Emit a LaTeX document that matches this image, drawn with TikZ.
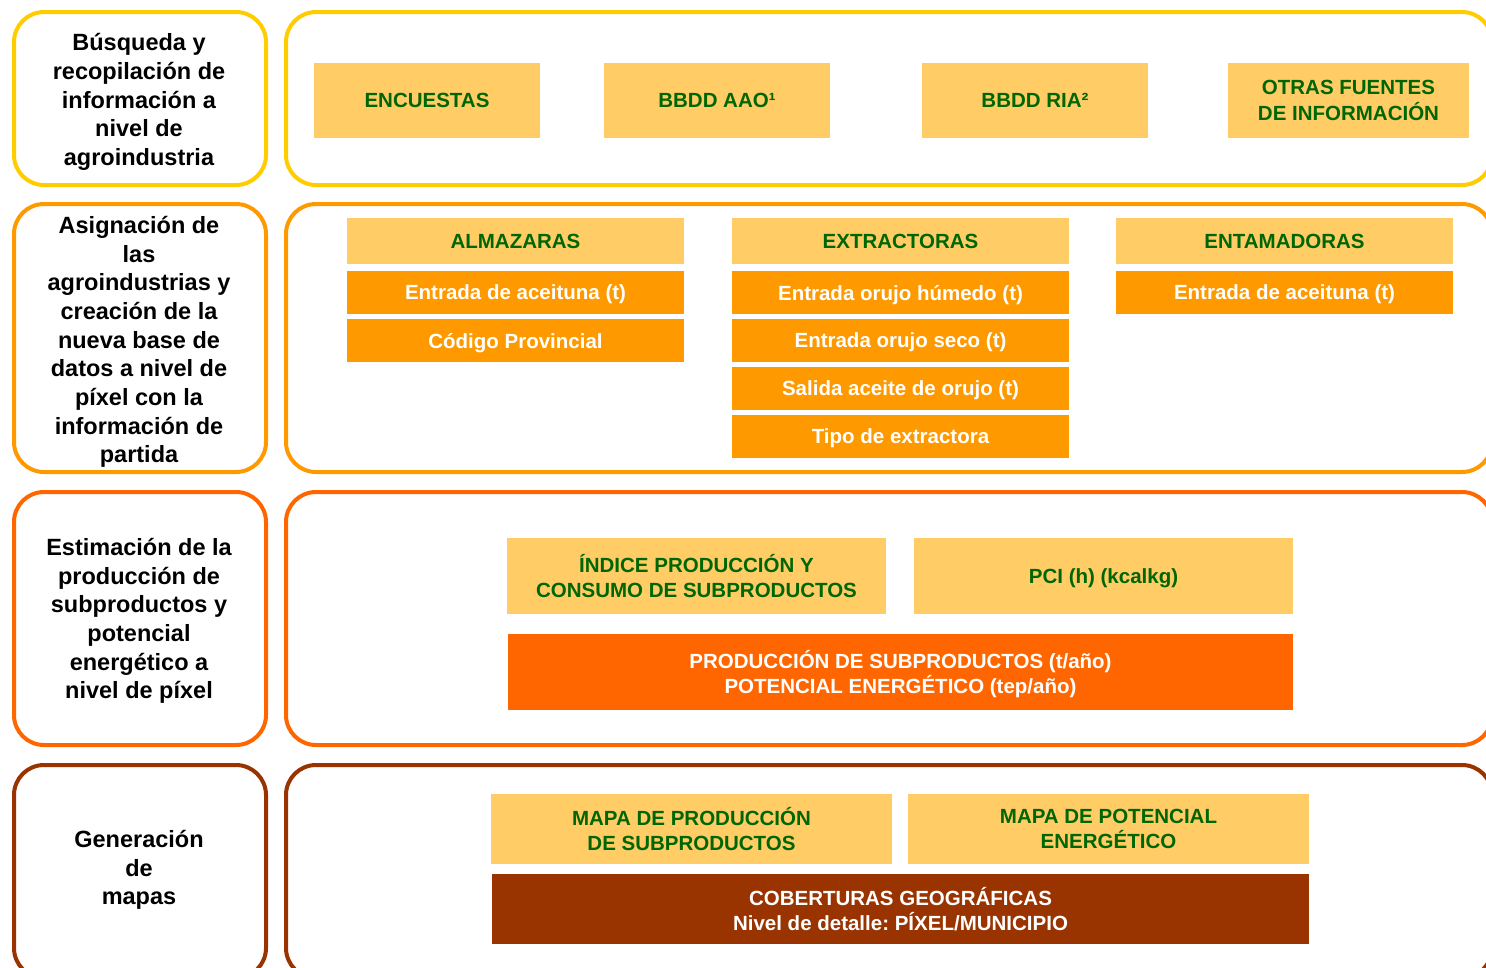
\documentclass[tikz,border=0pt]{standalone}
\usepackage{fontspec}
\setmainfont{Liberation Sans}
\frenchspacing
\definecolor{cgold}{HTML}{FFCC00}
\definecolor{corange}{HTML}{FF9900}
\definecolor{cstrong}{HTML}{FF6600}
\definecolor{cbrown}{HTML}{993300}
\definecolor{clight}{HTML}{FFCC66}
\definecolor{cgreen}{HTML}{006600}
\tikzset{
  frame/.style={draw, line width=4pt, rounded corners=30pt, fill=white, inner sep=0pt},
  lefttext/.style={align=center, font=\bfseries\fontsize{23.5}{28.7}\selectfont, text=black},
  light/.style={fill=clight, draw=none, align=center, inner sep=0pt, text depth=0pt, text=cgreen, font=\bfseries\fontsize{20.5}{25.5}\selectfont},
  dark/.style={draw=none, align=center, inner sep=0pt, text depth=0pt, text=white, font=\bfseries\fontsize{20.5}{25.5}\selectfont},
}
\begin{document}
\begin{tikzpicture}[x=1pt,y=-1pt]
\useasboundingbox (0,0) rectangle (1486,967);
\clip (0,0) rectangle (1486,967);
% frames
\node[frame, draw=cgold, minimum width=252pt, minimum height=173pt] (l1) at (140,98.5) {};
\node[frame, draw=cgold, minimum width=1206pt, minimum height=173pt] (r1) at (889,98.5) {};
\node[frame, draw=corange, minimum width=252pt, minimum height=268pt] (l2) at (140,338) {};
\node[frame, draw=corange, minimum width=1206pt, minimum height=268pt] (r2) at (889,338) {};
\node[frame, draw=cstrong, minimum width=252pt, minimum height=253pt] (l3) at (140,618.5) {};
\node[frame, draw=cstrong, minimum width=1206pt, minimum height=253pt] (r3) at (889,618.5) {};
\node[frame, draw=cbrown, minimum width=252pt, minimum height=213pt] (l4) at (140,871.5) {};
\node[frame, draw=cbrown, minimum width=1206pt, minimum height=213pt] (r4) at (889,871.5) {};
% left texts
\node[lefttext] (t1) at (139,102) {Búsqueda y\\recopilación de\\información a\\nivel de\\agroindustria};
\node[lefttext] (t2) at (139,342) {Asignación de\\las\\agroindustrias y\\creación de la\\nueva base de\\datos a nivel de\\píxel con la\\información de\\partida};
\node[lefttext] (t3) at (139,621) {Estimación de la\\producción de\\subproductos y\\potencial\\energético a\\nivel de píxel};
\node[lefttext] (t4) at (139,870) {Generación\\de\\mapas};
% row 1
\node[light, minimum width=226pt, minimum height=75pt] (enc) at (427,100.5) {ENCUESTAS};
\node[light, minimum width=226pt, minimum height=75pt] (aao) at (717,100.5) {BBDD AAO¹};
\node[light, minimum width=226pt, minimum height=75pt] (ria) at (1035,100.5) {BBDD RIA²};
\node[light, minimum width=241pt, minimum height=75pt] (otr) at (1348.5,100.5) {OTRAS FUENTES\\DE INFORMACIÓN};
% row 2
\node[light, minimum width=337pt, minimum height=46pt] (alm) at (515.5,241) {ALMAZARAS};
\node[dark, fill=corange, minimum width=337pt, minimum height=43pt] (alm1) at (515.5,292.5) {Entrada de aceituna (t)};
\node[dark, fill=corange, minimum width=337pt, minimum height=43pt] (alm2) at (515.5,340.5) {Código Provincial};
\node[light, minimum width=337pt, minimum height=46pt] (ext) at (900.5,241) {EXTRACTORAS};
\node[dark, fill=corange, minimum width=337pt, minimum height=43pt] (ext1) at (900.5,292.5) {Entrada orujo húmedo (t)};
\node[dark, fill=corange, minimum width=337pt, minimum height=43pt] (ext2) at (900.5,340.5) {Entrada orujo seco (t)};
\node[dark, fill=corange, minimum width=337pt, minimum height=43pt] (ext3) at (900.5,388.5) {Salida aceite de orujo (t)};
\node[dark, fill=corange, minimum width=337pt, minimum height=43pt] (ext4) at (900.5,436.5) {Tipo de extractora};
\node[light, minimum width=337pt, minimum height=46pt] (ent) at (1284.5,241) {ENTAMADORAS};
\node[dark, fill=corange, minimum width=337pt, minimum height=43pt] (ent1) at (1284.5,292.5) {Entrada de aceituna (t)};
% row 3
\node[light, minimum width=379pt, minimum height=76pt] (ind) at (696.5,576) {ÍNDICE PRODUCCIÓN Y\\CONSUMO DE SUBPRODUCTOS};
\node[light, minimum width=379pt, minimum height=76pt] (pci) at (1103.5,576) {PCI (h) (kcalkg)};
\node[dark, fill=cstrong, minimum width=785pt, minimum height=76pt] (prod) at (900.5,672) {PRODUCCIÓN DE SUBPRODUCTOS (t/año)\\POTENCIAL ENERGÉTICO (tep/año)};
% row 4
\node[light, minimum width=401pt, minimum height=70pt] (mp1) at (691.5,829) {MAPA DE PRODUCCIÓN\\DE SUBPRODUCTOS};
\node[light, minimum width=401pt, minimum height=70pt] (mp2) at (1108.5,829) {MAPA DE POTENCIAL\\ENERGÉTICO};
\node[dark, fill=cbrown, minimum width=817pt, minimum height=70pt] (cob) at (900.5,909) {COBERTURAS GEOGRÁFICAS\\Nivel de detalle: PÍXEL/MUNICIPIO};
\end{tikzpicture}
\end{document}
